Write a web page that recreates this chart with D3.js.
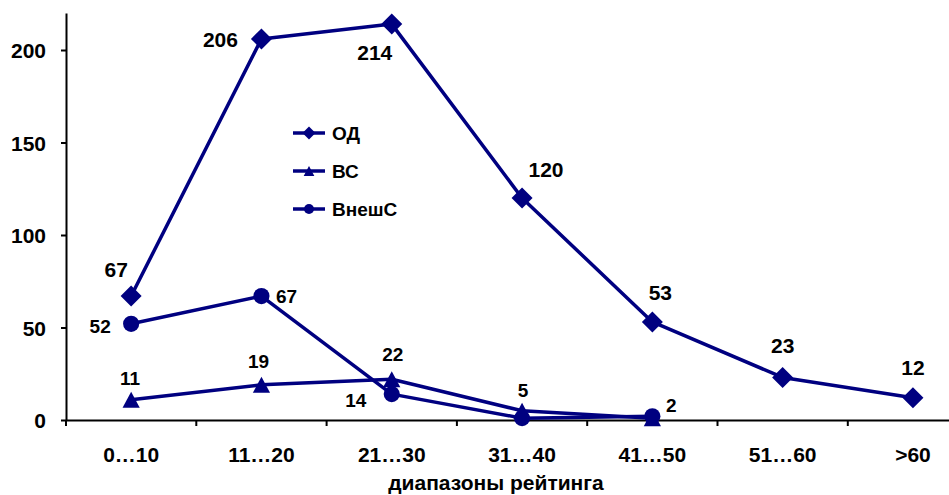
<!DOCTYPE html>
<html>
<head>
<meta charset="utf-8">
<script src="https://cdn.jsdelivr.net/npm/d3@7"></script>
<style>
  html, body { margin: 0; padding: 0; background: #fff; overflow: hidden; }
  svg { display: block; font-family: "Liberation Sans", Arial, sans-serif; font-weight: bold; }
</style>
</head>
<body>
<svg id="chart" width="949" height="495"></svg>
<script>
// Rating ranges and counts per group
const categories = ["0…10", "11…20", "21…30", "31…40", "41…50", "51…60", ">60"];
const seriesNames = ["ОД", "ВС", "ВнешС"];
const valuesOD = [67, 206, 214, 120, 53, 23, 12];
const valuesVS = [11, 19, 22, 5, 1];
const valuesVneshS = [52, 67, 14, 1, 2];
// which points carry a value label (null = no label)
const labelsOD = [67, 206, 214, 120, 53, 23, 12];
const labelsVS = [11, 19, 22, 5, null];
const labelsVneshS = [52, 67, 14, null, 2];
const yTicks = [0, 50, 100, 150, 200];
const xTitle = "диапазоны рейтинга";

// label placement offsets from the point (dx, dy to baseline)
const offsetsOD = [[-15, -19], [-41, 8], [-17, 36], [24, -21], [8, -22], [0, -24], [0, -23]];
const offsetsVS = [[-1, -15], [-3, -17], [1, -18], [1, -14], [0, 0]];
const offsetsVneshS = [[-31, 9], [25, 7], [-36, 13], [0, 0], [19, -4]];

const color = "#000080";
const svg = d3.select("#chart");

const x = d3.scaleBand().domain(categories).range([66, 66 + 7 * 130.3]);
const y = d3.scaleLinear().domain([0, 220]).range([420, 13]);
const cx = c => x(c) + x.bandwidth() / 2;

// y axis
const yAxis = svg.append("g")
  .attr("transform", "translate(66,0)")
  .call(d3.axisLeft(y).tickValues(yTicks).tickSize(5).tickPadding(15).tickSizeOuter(0));
yAxis.select(".domain").attr("stroke", "#000").attr("stroke-width", 2);
yAxis.selectAll(".tick line").attr("stroke", "#000").attr("stroke-width", 2);
yAxis.selectAll(".tick text")
  .attr("font-size", 21).attr("font-weight", "bold").attr("fill", "#000")
  .attr("font-family", "'Liberation Sans', Arial, sans-serif")
  .attr("dy", "0.36em");

// x axis: labels centered in bands, tick marks at band boundaries
const xAxis = svg.append("g")
  .attr("transform", `translate(0,${y(0)})`)
  .call(d3.axisBottom(x).tickSize(0).tickPadding(27).tickSizeOuter(0));
xAxis.select(".domain").attr("stroke", "#000").attr("stroke-width", 2);
xAxis.selectAll(".tick text")
  .attr("font-size", 21).attr("font-weight", "bold").attr("fill", "#000")
  .attr("font-family", "'Liberation Sans', Arial, sans-serif");
xAxis.selectAll(".boundary")
  .data(categories)
  .join("line")
  .attr("class", "boundary")
  .attr("x1", d => x(d)).attr("x2", d => x(d))
  .attr("y1", 0).attr("y2", 6)
  .attr("stroke", "#000").attr("stroke-width", 2);

svg.append("text")
  .attr("x", 496).attr("y", 490)
  .attr("text-anchor", "middle")
  .attr("font-size", 21)
  .attr("fill", "#000")
  .text(xTitle);

// markers
function marker(g, type, size) {
  if (type === "diamond") {
    g.append("path").attr("d", `M0,${-size}L${size},0L0,${size}L${-size},0Z`).attr("fill", color);
  } else if (type === "triangle") {
    const w = size * 0.82, h = size * 0.76;
    g.append("path").attr("d", `M0,${-h}L${w},${h}L${-w},${h}Z`).attr("fill", color);
  } else {
    g.append("circle").attr("r", size * 0.77).attr("fill", color);
  }
}

const series = [
  { name: seriesNames[0], values: valuesOD, labels: labelsOD, offsets: offsetsOD, type: "diamond", fs: 21 },
  { name: seriesNames[1], values: valuesVS, labels: labelsVS, offsets: offsetsVS, type: "triangle", fs: 19 },
  { name: seriesNames[2], values: valuesVneshS, labels: labelsVneshS, offsets: offsetsVneshS, type: "circle", fs: 19 }
];

const line = d3.line().x(d => cx(d.c)).y(d => y(d.v));

series.forEach(s => {
  const pts = s.values.map((v, i) => ({ c: categories[i], v }));
  svg.append("path")
    .datum(pts)
    .attr("d", line)
    .attr("fill", "none")
    .attr("stroke", color)
    .attr("stroke-width", 3.5)
    .attr("stroke-linejoin", "round");
  pts.forEach(p => {
    const g = svg.append("g").attr("transform", `translate(${cx(p.c)},${y(p.v)})`);
    marker(g, s.type, 10.5);
  });
});

// value labels
series.forEach(s => {
  s.values.forEach((v, i) => {
    if (s.labels[i] === null) return;
    const [dx, dy] = s.offsets[i];
    svg.append("text")
      .attr("x", cx(categories[i]) + dx)
      .attr("y", y(v) + dy)
      .attr("text-anchor", "middle")
      .attr("font-size", s.fs)
      .attr("fill", "#000")
      .text(s.labels[i]);
  });
});

// legend
const legend = svg.append("g").attr("transform", "translate(293,133)");
series.forEach((s, i) => {
  const row = legend.append("g").attr("transform", `translate(0,${i * 38})`);
  row.append("line").attr("x1", 0).attr("x2", 32).attr("y1", 0).attr("y2", 0)
    .attr("stroke", color).attr("stroke-width", 3.5);
  const m = row.append("g").attr("transform", "translate(16,0)");
  marker(m, s.type, 6.5);
  row.append("text").attr("x", 39).attr("y", 7)
    .attr("font-size", 19).attr("fill", "#000").text(s.name);
});
</script>
</body>
</html>
